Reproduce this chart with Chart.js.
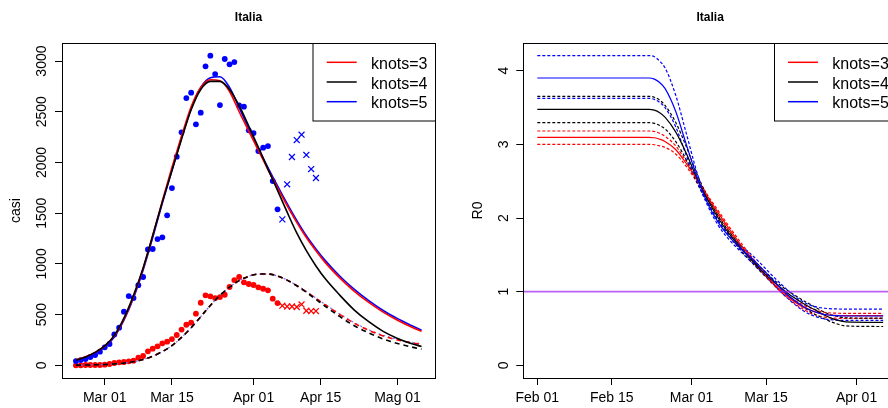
<!DOCTYPE html>
<html>
<head>
<meta charset="utf-8">
<script src="https://cdn.jsdelivr.net/npm/chart.js@4.4.1/dist/chart.umd.min.js"></script>
<style>
html, body { margin: 0; padding: 0; background: #fff; overflow: hidden; }
#wrap { position: relative; width: 888px; height: 408px; overflow: hidden; }
#left { position: absolute; left: 0; top: 0; }
#right { position: absolute; left: 444px; top: 0; }
</style>
</head>
<body>
<div id="wrap">
<canvas id="left" width="444" height="408"></canvas>
<canvas id="right" width="470" height="408"></canvas>
</div>
<script>
// days are counted from Feb 01 2020 (Mar 01 = 29, Apr 01 = 60, May 01 = 90)

// ---- left panel: observed data ----
var obsDays   = [23,24,25,26,27,28,29,30,31,32,33,34,35,36,37,38,39,40,41,42,43,44,45,46,47,48,49,50,51,52,53,54,55,56,57,58,59,60,61,62,63,64,65];
var casesObs  = [42,52,62,82,102,135,177,210,305,371,529,683,663,790,871,1143,1147,1245,1262,1479,1748,2057,2297,2635,2688,2376,2491,2948,3053,2872,2566,3020,2968,2990,2563,2550,2317,2290,2113,2146,2162,1817,1538];
var deathsObs = [0,0,3,3,3,3,6,13,23,30,33,39,46,75,92,138,164,187,217,233,259,299,352,400,420,509,617,690,680,663,673,696,772,841,871,818,802,792,769,755,739,657,614];
var newDays   = [66,67,68,69,70,71,72,73];
var casesNew  = [1439,1785,2054,2221,2274,2074,1935,1847];
var deathsNew = [588,580,580,575,600,538,535,535];

// ---- left panel: fitted curves ----
var fitDays = [23,25,27,29,31,33,35,37,39,41,43,45,47,49,51,53,55,57,59,61,63,65,67,69,71,73,75,78,81,84,87,90,93,95];
var casesK3 = [55,85,128,190,290,455,680,955,1280,1620,1950,2260,2550,2740,2815,2805,2700,2500,2310,2120,1930,1750,1575,1410,1260,1130,1010,860,730,620,525,445,375,335];
var casesK4 = [50,82,128,192,295,465,690,960,1280,1610,1920,2230,2520,2720,2800,2800,2720,2560,2360,2150,1935,1725,1510,1305,1130,980,850,690,545,430,335,265,212,186];
var casesK5 = [45,75,118,180,280,445,665,940,1260,1600,1920,2240,2530,2740,2835,2845,2740,2540,2335,2140,1950,1770,1595,1430,1278,1148,1030,878,748,637,540,460,390,345];
var deathsK3 = [2,3,5,8,13,22,35,57,90,135,195,275,370,480,590,690,770,835,878,900,900,880,840,785,725,660,595,500,415,345,290,250,220,205];
var deathsK4 = [2,3,5,8,13,22,35,57,90,135,195,275,370,480,590,690,770,835,878,900,900,880,840,785,720,650,580,480,390,320,260,215,180,160];
var deathsK5 = [2,3,5,8,13,22,35,57,90,135,195,275,370,480,590,690,770,835,878,900,900,880,842,788,728,663,598,505,420,350,296,256,226,212];

// ---- right panel: R0 curves ----
var rDays = [0,21,22,23,24,26,28,30,32,34,36,38,40,42,44,46,48,50,52,54,56,58,65];
var r0K3    = [3.096,3.096,3.09,3.07,3.04,2.93,2.74,2.52,2.29,2.07,1.86,1.66,1.48,1.30,1.14,1.00,0.88,0.79,0.73,0.69,0.677,0.674,0.674];
var r0K3up  = [3.181,3.181,3.175,3.15,3.11,2.98,2.77,2.54,2.31,2.10,1.89,1.69,1.50,1.32,1.16,1.02,0.90,0.82,0.76,0.72,0.708,0.706,0.706];
var r0K3lo  = [3.000,3.000,2.995,2.98,2.96,2.87,2.70,2.49,2.26,2.04,1.83,1.63,1.45,1.28,1.12,0.98,0.86,0.76,0.69,0.655,0.64,0.638,0.638];
var r0K4    = [3.476,3.476,3.465,3.43,3.37,3.17,2.88,2.54,2.25,2.00,1.79,1.61,1.45,1.30,1.16,1.04,0.93,0.84,0.76,0.68,0.62,0.59,0.584];
var r0K4up  = [3.652,3.652,3.64,3.60,3.53,3.30,2.97,2.60,2.29,2.03,1.82,1.64,1.48,1.33,1.19,1.07,0.97,0.88,0.80,0.72,0.67,0.645,0.64];
var r0K4lo  = [3.294,3.294,3.285,3.255,3.21,3.04,2.79,2.48,2.21,1.97,1.76,1.58,1.42,1.27,1.13,1.00,0.89,0.79,0.70,0.63,0.57,0.535,0.527];
var r0K5    = [3.901,3.901,3.885,3.84,3.76,3.45,3.00,2.56,2.20,1.94,1.75,1.60,1.47,1.33,1.18,1.03,0.90,0.80,0.73,0.69,0.675,0.67,0.67];
var r0K5up  = [4.204,4.204,4.19,4.13,4.04,3.67,3.15,2.62,2.22,1.96,1.78,1.64,1.52,1.38,1.23,1.09,0.96,0.86,0.80,0.775,0.766,0.764,0.764];
var r0K5lo  = [3.625,3.625,3.61,3.57,3.50,3.24,2.85,2.50,2.17,1.90,1.71,1.56,1.42,1.28,1.13,0.98,0.85,0.74,0.67,0.63,0.615,0.61,0.61];
var r0Threshold = 1;

// ---- axes and legend text ----
var leftTickDays = [29,43,60,74,90];
var leftTickLabels = ["Mar 01","Mar 15","Apr 01","Apr 15","Mag 01"];
var leftYTicks = [0,500,1000,1500,2000,2500,3000];
var rightTickDays = [0,14,29,43,60];
var rightTickLabels = ["Feb 01","Feb 15","Mar 01","Mar 15","Apr 01"];
var rightYTicks = [0,1,2,3,4];
var legendLabels = ["knots=3","knots=4","knots=5"];
var legendColors = ["#ff0000","#000000","#0000ff"];

Chart.defaults.font.family = "'Liberation Sans', Arial, sans-serif";
Chart.defaults.color = "#000";

function pts(xs, ys) {
	return xs.map(function (x, i) { return {x: x, y: ys[i]}; });
}

function curve(xs, ys, color, width, dash) {
	return {
		data: pts(xs, ys), showLine: true, borderColor: color, borderWidth: width,
		borderDash: dash || [], pointRadius: 0, cubicInterpolationMode: "monotone", fill: false
	};
}

function marks(xs, ys, color, style) {
	if (style === "dot") {
		return {data: pts(xs, ys), showLine: false, pointStyle: "circle", pointRadius: 2.9,
			backgroundColor: color, borderWidth: 0};
	}
	return {data: pts(xs, ys), showLine: false, pointStyle: "crossRot", pointRadius: 4.2,
		borderColor: color, borderWidth: 1.2};
}

function xAxis(min, max, tickDays, tickLabels) {
	return {
		type: "linear", min: min, max: max,
		afterBuildTicks: function (s) { s.ticks = tickDays.map(function (v) { return {value: v}; }); },
		afterFit: function (s) { s.height = 30; },
		grid: {drawOnChartArea: false, drawTicks: true, tickLength: 7, color: "#000", lineWidth: 1},
		border: {display: false},
		ticks: {autoSkip: false, minRotation: 0, maxRotation: 0, padding: 5, font: {size: 14},
			callback: function (v, i) { return tickLabels[i]; }}
	};
}

function yAxis(min, max, ticks, width, pad, title, titlePad) {
	return {
		type: "linear", min: min, max: max,
		afterBuildTicks: function (s) { s.ticks = ticks.map(function (v) { return {value: v}; }); },
		afterFit: function (s) { s.width = width; },
		grid: {drawOnChartArea: false, drawTicks: true, tickLength: 7, color: "#000", lineWidth: 1},
		border: {display: false},
		ticks: {minRotation: 90, maxRotation: 90, crossAlign: "center", padding: pad, font: {size: 14},
			callback: function (v) { return String(v); }},
		title: {display: true, text: title, font: {size: 14}, padding: {top: titlePad, bottom: 0}}
	};
}

var boxPlugin = {
	id: "box",
	afterDraw: function (chart) {
		var a = chart.chartArea, c = chart.ctx;
		c.save();
		c.strokeStyle = "#000";
		c.lineWidth = 1;
		c.strokeRect(Math.round(a.left) + 0.5, Math.round(a.top) + 0.5,
			Math.round(a.right - a.left), Math.round(a.bottom - a.top));
		c.restore();
	}
};

function legendPlugin(box, lineX0, lineX1, textX, rowsY) {
	return {
		id: "rlegend",
		afterDatasetsDraw: function (chart) {
			var c = chart.ctx;
			c.save();
			c.fillStyle = "#fff";
			c.fillRect(box[0], box[1], box[2] - box[0], box[3] - box[1]);
			c.strokeStyle = "#000";
			c.lineWidth = 1;
			c.strokeRect(box[0] + 0.5, box[1] + 0.5, box[2] - box[0], box[3] - box[1]);
			c.font = "16px 'Liberation Sans', Arial, sans-serif";
			c.textBaseline = "alphabetic";
			c.textAlign = "left";
			for (var i = 0; i < legendLabels.length; i++) {
				c.strokeStyle = legendColors[i];
				c.lineWidth = 1.5;
				c.beginPath();
				c.moveTo(lineX0, rowsY[i]);
				c.lineTo(lineX1, rowsY[i]);
				c.stroke();
				c.fillStyle = "#000";
				c.fillText(legendLabels[i], textX, rowsY[i] + 6.5);
			}
			c.restore();
		}
	};
}

function baseOptions(padRight) {
	return {
		responsive: false, animation: false, devicePixelRatio: 1, events: [],
		layout: {padding: {left: 0, right: padRight, top: 0, bottom: 0}},
		plugins: {
			legend: {display: false}, tooltip: {enabled: false},
			title: {display: true, text: "Italia", fullSize: false,
				font: {size: 12, weight: "bold"}, padding: {top: 10, bottom: 18.6}}
		}
	};
}

// left chart
var leftOpts = baseOptions(9);
leftOpts.scales = {
	x: xAxis(20.1, 97.8, leftTickDays, leftTickLabels),
	y: yAxis(-125, 3178, leftYTicks, 62, -2.8, "casi", 7.6)
};
new Chart("left", {
	type: "scatter",
	data: {datasets: [
		curve(fitDays, casesK4, "#000000", 1.6),
		curve(fitDays, casesK3, "#ff0000", 1.6),
		curve(fitDays, casesK5, "#0000ff", 1.6),
		curve(fitDays, deathsK4, "#000000", 1.6, [5, 4]),
		curve(fitDays, deathsK3, "#ff0000", 1.6, [5, 4]),
		curve(fitDays, deathsK5, "#6f6fff", 1.2, [2, 3]),
		marks(obsDays, casesObs, "#0000ff", "dot"),
		marks(obsDays, deathsObs, "#ff0000", "dot"),
		marks(newDays, casesNew, "#0000ff", "cross"),
		marks(newDays, deathsNew, "#ff0000", "cross")
	]},
	options: leftOpts,
	plugins: [boxPlugin, legendPlugin([312.5, 43, 435, 120.5], 326.7, 356.7, 371, [62.3, 82, 101.7])]
});

// right chart (canvas is wider than its half of the page, like the cropped original)
var rightOpts = baseOptions(17);
rightOpts.scales = {
	x: xAxis(-2.63, 67.6, rightTickDays, rightTickLabels),
	y: yAxis(-0.172, 4.376, rightYTicks, 79.3, 8.7, "R0", 25.4)
};
new Chart("right", {
	type: "scatter",
	data: {datasets: [
		curve([-2.63, 67.6], [r0Threshold, r0Threshold], "rgba(160,32,240,0.7)", 1.8),
		curve(rDays, r0K5, "#0000ff", 1.2),
		curve(rDays, r0K4, "#000000", 1.2),
		curve(rDays, r0K3, "#ff0000", 1.2),
		curve(rDays, r0K5up, "#0000ff", 1.2, [3, 2]),
		curve(rDays, r0K5lo, "#0000ff", 1.2, [3, 2]),
		curve(rDays, r0K4up, "#000000", 1.2, [3, 2]),
		curve(rDays, r0K4lo, "#000000", 1.2, [3, 2]),
		curve(rDays, r0K3up, "#ff0000", 1.2, [3, 2]),
		curve(rDays, r0K3lo, "#ff0000", 1.2, [3, 2])
	]},
	options: rightOpts,
	plugins: [boxPlugin, legendPlugin([330, 43, 453, 120.5], 344, 374, 388.3, [62.3, 82, 101.7])]
});
</script>
</body>
</html>
